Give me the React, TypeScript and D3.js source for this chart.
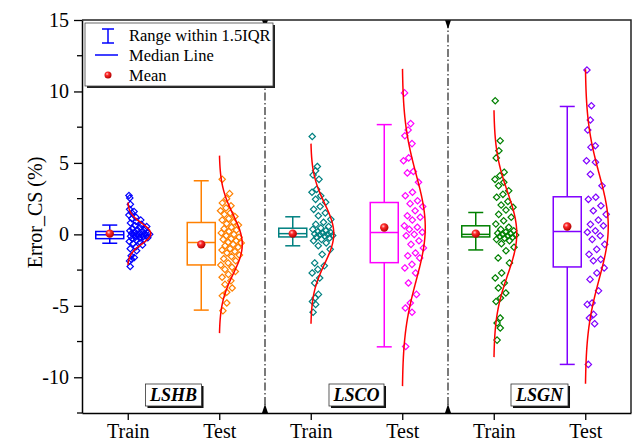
import React, { useEffect, useRef } from 'react';
import * as d3 from 'd3';

const WIDTH = 635;
const HEIGHT = 448;
const MARGIN = { top: 20, right: 4, bottom: 35, left: 82 };

const categories = ['Train', 'Test', 'Train', 'Test', 'Train', 'Test'];
const groupNames = ['LSHB', 'LSCO', 'LSGN'];
const seriesColors = ['#0000FF', '#FF8000', '#008080', '#FF00FF', '#008000', '#8000FF'];

// scatter values (Error_CS, %)
const lshbTrain = [2.72, 2.55, 2.1, 1.75, 1.6, 1.5, 1.35, 1.2, 1.1, 1.0, 0.9, 0.8, 0.7, 0.62, 0.55, 0.48, 0.4, 0.35, 0.3, 0.25, 0.2, 0.16, 0.12, 0.1, 0.07, 0.05, 0.03, 0.0, -0.02, -0.05, -0.08, -0.1, -0.13, -0.16, -0.2, -0.23, -0.27, -0.3, -0.35, -0.42, -0.5, -0.57, -0.65, -0.75, -0.88, -1.0, -1.15, -1.5, -1.62, -1.75, -1.86, -2.25];
const lshbTest = [3.85, 2.85, 2.5, 2.2, 2.0, 1.85, 1.65, 1.5, 1.4, 1.25, 1.1, 1.0, 0.85, 0.75, 0.65, 0.5, 0.4, 0.3, 0.2, 0.1, 0.0, -0.1, -0.2, -0.3, -0.35, -0.45, -0.55, -0.6, -0.7, -0.8, -0.9, -1.0, -1.1, -1.2, -1.3, -1.45, -1.55, -1.7, -1.85, -2.0, -2.15, -2.3, -2.45, -2.6, -2.8, -3.0, -3.25, -3.5, -3.75, -4.05, -4.3, -4.8, -5.35];
const lscoTrain = [6.85, 4.75, 4.45, 4.15, 3.85, 3.15, 2.95, 2.7, 2.45, 2.25, 1.95, 1.75, 1.5, 1.3, 1.05, 0.85, 0.7, 0.55, 0.45, 0.35, 0.25, 0.18, 0.12, 0.08, 0.03, 0.0, -0.03, -0.08, -0.12, -0.18, -0.25, -0.35, -0.45, -0.6, -0.8, -1.05, -1.4, -2.0, -2.2, -2.45, -2.7, -3.05, -3.4, -4.2, -4.45, -4.7, -4.9, -5.45];
const lscoTest = [9.9, 7.75, 7.3, 6.9, 6.35, 5.35, 5.15, 4.4, 4.3, 3.65, 2.95, 2.7, 2.35, 2.15, 1.95, 1.65, 1.3, 1.2, 1.0, 0.6, 0.5, 0.35, 0.15, 0.0, -0.1, -0.45, -0.7, -0.95, -1.3, -1.5, -1.65, -2.1, -2.35, -2.7, -3.4, -4.2, -4.8, -5.15, -5.45, -7.85];
const lsgnTrain = [9.35, 6.55, 5.85, 5.35, 4.35, 4.1, 3.85, 3.65, 3.4, 3.05, 2.8, 2.6, 2.3, 2.05, 1.9, 1.7, 1.4, 1.2, 0.95, 0.72, 0.5, 0.35, 0.25, 0.15, 0.08, 0.05, 0.0, -0.05, -0.1, -0.15, -0.2, -0.27, -0.35, -0.45, -0.65, -0.9, -1.15, -1.65, -2.0, -2.7, -3.05, -3.4, -3.75, -4.1, -4.45, -4.7, -5.85, -6.2, -6.55, -7.4];
const lsgnTest = [11.5, 9.0, 8.0, 7.3, 6.2, 6.1, 5.15, 5.05, 4.2, 3.4, 2.6, 2.45, 2.0, 1.65, 1.4, 1.0, 0.7, 0.6, 0.25, 0.15, -0.1, -0.35, -0.7, -1.05, -1.4, -1.75, -1.85, -2.35, -2.7, -3.15, -3.95, -4.8, -4.9, -5.6, -5.85, -6.25, -9.1];
const seriesValues = [lshbTrain, lshbTest, lscoTrain, lscoTest, lsgnTrain, lsgnTest];

// box statistics
const q1Values = [-0.3, -2.14, -0.18, -1.98, -0.18, -2.28];
const medianValues = [-0.03, -0.57, 0.05, 0.13, 0.0, 0.2];
const q3Values = [0.2, 0.83, 0.43, 2.23, 0.6, 2.63];
const whiskerLow = [-0.62, -5.3, -0.8, -7.87, -1.09, -9.1];
const whiskerHigh = [0.65, 3.75, 1.23, 7.68, 1.53, 8.95];
const meanValues = [0.05, -0.7, 0.05, 0.48, 0.05, 0.55];
const curveSd = [0.73, 2.07, 2.1, 3.7, 2.88, 3.67];

const yTicks = [-10, -5, 0, 5, 10, 15];
const yMinorTicks = [-12.5, -7.5, -2.5, 2.5, 7.5, 12.5];

const FONT = '"Liberation Serif", "Times New Roman", serif';

const App: React.FC = () => {
  const svgRef = useRef<SVGSVGElement>(null);

  useEffect(() => {
    const svg = d3.select(svgRef.current);
    svg.selectAll('*').remove();

    const x = d3.scaleLinear().domain([0.5, 6.5]).range([MARGIN.left, WIDTH - MARGIN.right]);
    const y = d3.scaleLinear().domain([-12.5, 15]).range([HEIGHT - MARGIN.bottom, MARGIN.top]);
    const [x0, x1] = x.range();
    const [yb, yt] = y.range();

    // gradient for the mean ball
    const defs = svg.append('defs');
    const grad = defs.append('radialGradient').attr('id', 'meanBall').attr('cx', '38%').attr('cy', '35%').attr('r', '65%');
    grad.append('stop').attr('offset', '0%').attr('stop-color', '#ffd0d0');
    grad.append('stop').attr('offset', '35%').attr('stop-color', '#ff2a2a');
    grad.append('stop').attr('offset', '100%').attr('stop-color', '#b00000');

    svg.append('rect').attr('width', WIDTH).attr('height', HEIGHT).attr('fill', 'white');

    // group separators
    [2.5, 4.5].forEach(s => {
      const sx = x(s);
      svg.append('line')
        .attr('x1', sx).attr('x2', sx).attr('y1', yt).attr('y2', yb)
        .attr('stroke', '#222').attr('stroke-width', 1.2)
        .attr('stroke-dasharray', '8,2.5,1.5,2.5');
      svg.append('path')
        .attr('d', `M${sx - 3},${yt} L${sx + 3},${yt} L${sx},${yt + 9} Z`).attr('fill', '#000');
      svg.append('path')
        .attr('d', `M${sx - 3},${yb} L${sx + 3},${yb} L${sx},${yb - 9} Z`).attr('fill', '#000');
    });

    const CURVE_W = 23;
    const BOX_W = 28;
    const CAP_W = 15;
    const BOX_OFFSET = 18;

    const diamond = d3.symbol().type(d3.symbolDiamond2).size(26);

    seriesValues.forEach((vals, i) => {
      const pos = x(i + 1);
      const bx = pos - BOX_OFFSET;
      const color = seriesColors[i];
      const mu = meanValues[i];
      const sd = curveSd[i];
      const ratio = (v: number) => Math.exp(-0.5 * ((v - mu) / sd) ** 2);

      const g = svg.append('g');

      // whiskers
      g.append('line').attr('x1', bx).attr('x2', bx).attr('y1', y(whiskerHigh[i])).attr('y2', y(q3Values[i]))
        .attr('stroke', color).attr('stroke-width', 1.5);
      g.append('line').attr('x1', bx).attr('x2', bx).attr('y1', y(q1Values[i])).attr('y2', y(whiskerLow[i]))
        .attr('stroke', color).attr('stroke-width', 1.5);
      [whiskerHigh[i], whiskerLow[i]].forEach(w => {
        g.append('line').attr('x1', bx - CAP_W / 2).attr('x2', bx + CAP_W / 2).attr('y1', y(w)).attr('y2', y(w))
          .attr('stroke', color).attr('stroke-width', 1.5);
      });
      // box
      g.append('rect')
        .attr('x', bx - BOX_W / 2).attr('width', BOX_W)
        .attr('y', y(q3Values[i])).attr('height', y(q1Values[i]) - y(q3Values[i]))
        .attr('fill', 'white').attr('stroke', color).attr('stroke-width', 1.5);
      g.append('line').attr('x1', bx - BOX_W / 2).attr('x2', bx + BOX_W / 2)
        .attr('y1', y(medianValues[i])).attr('y2', y(medianValues[i]))
        .attr('stroke', color).attr('stroke-width', 1.5);

      // jittered scatter, spread limited by the density curve
      g.selectAll('path.pt')
        .data(vals)
        .enter().append('path')
        .attr('class', 'pt')
        .attr('d', diamond)
        .attr('transform', (v, k) => {
          const u = (k * 0.618034 + 0.31) % 1;
          const px = pos + 1 + u * (CURVE_W - 2) * Math.sqrt(ratio(v));
          return `translate(${px},${y(v)})`;
        })
        .attr('fill', 'none').attr('stroke', color).attr('stroke-width', 1.2);

      // normal curve
      const ys = d3.range(mu - 3 * sd, mu + 3 * sd + 1e-9, sd / 40);
      const line = d3.line<number>()
        .x(v => pos + CURVE_W * ratio(v))
        .y(v => y(v))
        .curve(d3.curveBasis);
      g.append('path').datum(ys).attr('d', line)
        .attr('fill', 'none').attr('stroke', '#FF0000').attr('stroke-width', 1.5);

      // mean
      g.append('circle').attr('cx', bx).attr('cy', y(mu)).attr('r', 4.2).attr('fill', 'url(#meanBall)');
    });

    // frame
    svg.append('path')
      .attr('d', `M${x0},${yt} L${x1},${yt} L${x1},${yb}`)
      .attr('fill', 'none').attr('stroke', '#222').attr('stroke-width', 1.5);

    // y axis
    const yAxis = svg.append('g').attr('transform', `translate(${x0},0)`)
      .call(d3.axisLeft(y).tickValues(yTicks).tickFormat(d => String(d)).tickSize(8).tickSizeOuter(0).tickPadding(5));
    yAxis.select('.domain').attr('stroke', '#000').attr('stroke-width', 1.5);
    yAxis.selectAll('.tick line').attr('stroke-width', 1.3);
    yAxis.selectAll('.tick text').attr('font-family', FONT).attr('font-size', 20).attr('fill', '#000');
    yMinorTicks.forEach(t => {
      yAxis.append('line').attr('x1', -5).attr('x2', 0).attr('y1', y(t)).attr('y2', y(t))
        .attr('stroke', '#000').attr('stroke-width', 1.3);
    });

    // x axis
    const xAxis = svg.append('g').attr('transform', `translate(0,${yb})`)
      .call(d3.axisBottom(x).tickValues(d3.range(1, 7)).tickFormat(d => categories[(d as number) - 1])
        .tickSize(7).tickSizeOuter(0).tickPadding(4));
    xAxis.select('.domain').attr('stroke', '#000').attr('stroke-width', 1.5);
    xAxis.selectAll('.tick line').attr('stroke-width', 1.3);
    xAxis.selectAll('.tick text').attr('font-family', FONT).attr('font-size', 20).attr('fill', '#000');

    // y label
    svg.append('text')
      .attr('transform', 'rotate(-90)')
      .attr('x', -(yt + yb) / 2 + 4).attr('y', 42)
      .attr('text-anchor', 'middle')
      .attr('font-family', FONT).attr('font-size', 20)
      .text('Error_CS (%)');

    // group labels
    groupNames.forEach((name, gi) => {
      const cx = (x(gi * 2 + 0.5) + x(gi * 2 + 2.5)) / 2;
      const lg = svg.append('g');
      const txt = lg.append('text')
        .attr('x', cx).attr('y', 401)
        .attr('text-anchor', 'middle')
        .attr('font-family', FONT).attr('font-size', 18)
        .attr('font-weight', 'bold').attr('font-style', 'italic')
        .text(name);
      const bb = (txt.node() as SVGTextElement).getBBox();
      const w = bb.width + 8;
      const h = 22;
      lg.insert('rect', 'text').attr('x', cx - w / 2 + 2).attr('y', 384 + 2).attr('width', w).attr('height', h).attr('fill', '#111');
      lg.insert('rect', 'text').attr('x', cx - w / 2).attr('y', 384).attr('width', w).attr('height', h)
        .attr('fill', 'white').attr('stroke', '#333').attr('stroke-width', 0.8);
    });

    // legend
    const leg = svg.append('g');
    leg.append('rect').attr('x', 87).attr('y', 25).attr('width', 188).attr('height', 63).attr('fill', '#222');
    leg.append('rect').attr('x', 85).attr('y', 23).attr('width', 188).attr('height', 63)
      .attr('fill', 'white').attr('stroke', '#444').attr('stroke-width', 0.8);
    const lx = 108;
    leg.append('line').attr('x1', lx).attr('x2', lx).attr('y1', 29).attr('y2', 43).attr('stroke', '#0000FF').attr('stroke-width', 1.5);
    [29, 43].forEach(cy => leg.append('line').attr('x1', lx - 6).attr('x2', lx + 6).attr('y1', cy).attr('y2', cy)
      .attr('stroke', '#0000FF').attr('stroke-width', 1.5));
    leg.append('line').attr('x1', 95).attr('x2', 118).attr('y1', 55).attr('y2', 55).attr('stroke', '#0000FF').attr('stroke-width', 1.5);
    leg.append('circle').attr('cx', lx).attr('cy', 75).attr('r', 3.5).attr('fill', 'url(#meanBall)');
    const legendLabels = ['Range within 1.5IQR', 'Median Line', 'Mean'];
    leg.selectAll('text.lt').data(legendLabels).enter().append('text')
      .attr('class', 'lt')
      .attr('x', 129).attr('y', (d, k) => 41 + k * 20)
      .attr('font-family', FONT).attr('font-size', 16.5)
      .text(d => d);
  }, []);

  return (
    <svg ref={svgRef} width={WIDTH} height={HEIGHT}
      style={{ position: 'absolute', left: 0, top: 0, display: 'block' }} />
  );
};

export default App;
